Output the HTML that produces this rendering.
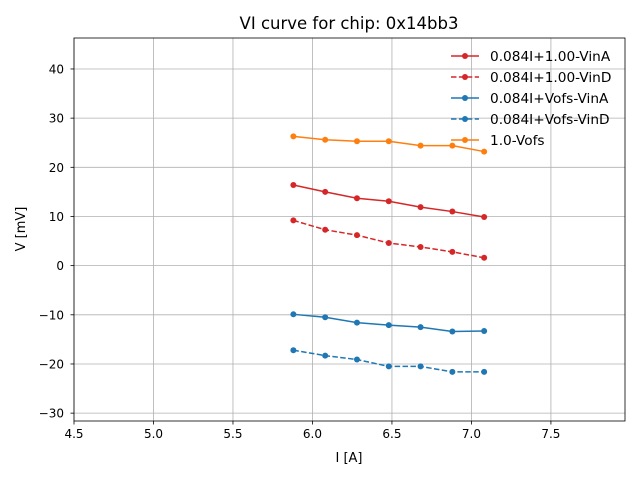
<!DOCTYPE html>
<html><head><meta charset="utf-8"><style>
body{margin:0;background:#fff;}
svg text{font-family:"DejaVu Sans","Liberation Sans",sans-serif;fill:#000;}
</style></head><body>
<svg id="c" width="640" height="480" xmlns="http://www.w3.org/2000/svg"></svg>
<script>
const xs = [5.88, 6.08, 6.28, 6.48, 6.68, 6.88, 7.08];
const redSolid = [16.4, 15.0, 13.7, 13.1, 11.9, 11.0, 9.9];
const redDashed = [9.2, 7.3, 6.2, 4.6, 3.8, 2.8, 1.6];
const blueSolid = [-9.9, -10.5, -11.6, -12.1, -12.5, -13.4, -13.3];
const blueDashed = [-17.2, -18.3, -19.1, -20.5, -20.5, -21.6, -21.6];
const orange = [26.3, 25.6, 25.3, 25.3, 24.4, 24.4, 23.2];
const xTicks = [4.5, 5.0, 5.5, 6.0, 6.5, 7.0, 7.5];
const yTicks = [-30, -20, -10, 0, 10, 20, 30, 40];
const seriesNames = ["0.084I+1.00-VinA","0.084I+1.00-VinD","0.084I+Vofs-VinA","0.084I+Vofs-VinD","1.0-Vofs"];

const L=74,R=625,T=38,B=421, xmin=4.5,xmax=7.966,ymin=-31.6,ymax=46.3;
const X=v=>L+(v-xmin)/(xmax-xmin)*(R-L);
const Y=v=>B-(v-ymin)/(ymax-ymin)*(B-T);
const svg=document.getElementById('c');
const NS='http://www.w3.org/2000/svg';
function mk(tag,attrs,parent){const e=document.createElementNS(NS,tag);for(const k in attrs)e.setAttribute(k,attrs[k]);(parent||svg).appendChild(e);return e;}

xTicks.forEach(t=>{
  const g=mk('line',{x1:X(t),x2:X(t),y1:T,y2:B,stroke:'#b0b0b0','stroke-width':0.8});
  
  
  mk('line',{x1:X(t),x2:X(t),y1:B,y2:B+3.5,stroke:'#000','stroke-width':0.8});
  const tx=mk('text',{x:X(t),y:B+17,'text-anchor':'middle','font-size':12});
  tx.textContent=t.toFixed(1);
  
  
});
yTicks.forEach(t=>{
  const g=mk('line',{x1:L,x2:R,y1:Y(t),y2:Y(t),stroke:'#b0b0b0','stroke-width':0.8});
  
  
  mk('line',{x1:L-3.5,x2:L,y1:Y(t),y2:Y(t),stroke:'#000','stroke-width':0.8});
  const tx=mk('text',{x:L-10,y:Y(t)+4.5,'text-anchor':'end','font-size':12});
  tx.textContent=t<0?'\u2212'+Math.abs(t):String(t);
  
  
});

const series=[
 {d:redSolid,c:'#d62728',dash:null,name:'red-solid-series'},
 {d:redDashed,c:'#d62728',dash:'5.5,2.4',name:'red-dashed-series'},
 {d:blueSolid,c:'#1f77b4',dash:null,name:'blue-solid-series'},
 {d:blueDashed,c:'#1f77b4',dash:'5.5,2.4',name:'blue-dashed-series'},
 {d:orange,c:'#ff7f0e',dash:null,name:'orange-series'}
];
series.forEach(s=>{
  const g=mk('g',{});
  
  
  const pts=s.d.map((v,i)=>X(xs[i])+','+Y(v)).join(' ');
  const a={points:pts,fill:'none',stroke:s.c,'stroke-width':1.5};
  if(s.dash)a['stroke-dasharray']=s.dash;
  mk('polyline',a,g);
  s.d.forEach((v,i)=>{
    const p=mk('circle',{cx:X(xs[i]),cy:Y(v),r:3,fill:s.c},g);
    
    
  });
});

mk('rect',{x:L,y:T,width:R-L,height:B-T,fill:'none',stroke:'#000','stroke-width':0.8});

const lg=mk('g',{});


series.forEach((s,i)=>{
  const y=56+i*21;
  const e=mk('g',{},lg);
  
  
  const a={x1:451,x2:479,y1:y,y2:y,stroke:s.c,'stroke-width':1.5};
  if(s.dash)a['stroke-dasharray']=s.dash;
  mk('line',a,e);
  mk('circle',{cx:465,cy:y,r:3,fill:s.c},e);
  const t=mk('text',{x:490,y:y+5,'font-size':13.7},e);
  t.textContent=seriesNames[i];
});

const title=mk('text',{x:349,y:29,'text-anchor':'middle','font-size':16.5});
title.textContent='VI curve for chip: 0x14bb3';


const xl=mk('text',{x:349,y:462,'text-anchor':'middle','font-size':13});
xl.textContent='I [A]';


const yl=mk('text',{x:0,y:0,'text-anchor':'middle','font-size':13,transform:'translate(25,229) rotate(-90)'});
yl.textContent='V [mV]';


</script>
</body></html>
